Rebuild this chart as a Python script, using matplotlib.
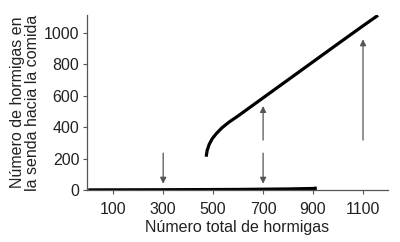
import matplotlib
matplotlib.use("Agg")
import matplotlib.pyplot as plt

plt.rcParams['font.family'] = ['Liberation Sans', 'DejaVu Sans']

# upper (trail) branch
upper_x = [472, 476, 484, 496, 512, 535, 565, 600, 700, 800, 900, 1000, 1100, 1160]
upper_y = [212, 252, 290, 326, 358, 396, 434, 472, 587, 702, 817, 932, 1046, 1113]
# lower branch (no trail)
lower_x = [0, 300, 600, 800, 900, 915]
lower_y = [0, 1, 3, 6, 9, 12]

# arrows: (x, start, end)
arrows = [(300, 235, 40), (700, 235, 40), (700, 318, 535), (1100, 318, 960)]

xticks = [100, 300, 500, 700, 900, 1100]
yticks = [0, 200, 400, 600, 800, 1000]

fig = plt.figure(figsize=(4, 2.42), dpi=100)
ax = fig.add_axes([0.2175, 0.215, 0.7525, 0.723])

ax.plot(upper_x, upper_y, color='black', lw=2.3, solid_capstyle='butt')
ax.plot(lower_x, lower_y, color='black', lw=2.4, solid_capstyle='butt')

for x, y0, y1 in arrows:
    ax.annotate('', xy=(x, y1), xytext=(x, y0),
                arrowprops=dict(arrowstyle='-|>', color='#555555', lw=0.9,
                                mutation_scale=9, shrinkA=0, shrinkB=0))

ax.set_xlim(-5, 1200)
ax.set_ylim(0, 1115)
ax.set_xticks(xticks)
ax.set_yticks(yticks)
ax.spines['top'].set_visible(False)
ax.spines['right'].set_visible(False)
for s in ('left', 'bottom'):
    ax.spines[s].set_color('#555555')
    ax.spines[s].set_linewidth(0.9)
ax.tick_params(axis='both', labelsize=11.5, colors='#555555', labelcolor='#222222',
               length=3, width=0.8, pad=2.5)
ax.tick_params(axis='x', pad=6)

ax.set_xlabel('Número total de hormigas', fontsize=11.5, color='#222222', labelpad=2)
ax.set_ylabel('Número de hormigas en\nla senda hacia la comida', fontsize=11.5,
              color='#222222', labelpad=3, linespacing=0.95)

fig.savefig('out.png', dpi=100)
